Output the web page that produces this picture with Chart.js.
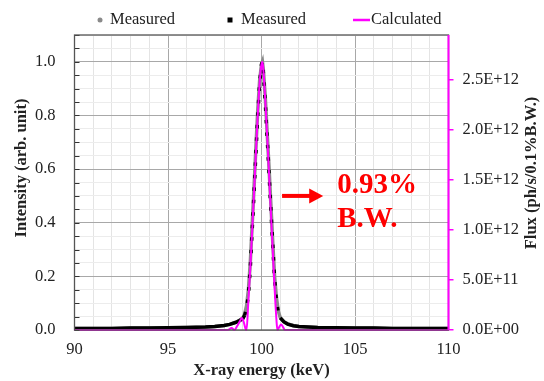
<!DOCTYPE html>
<html>
<head>
<meta charset="utf-8">
<script src="https://cdn.jsdelivr.net/npm/chart.js@4"></script>
<style>
  body { margin: 0; background: #fff; }
  #grafica { display: block; }
</style>
</head>
<body>
<canvas id="grafica" width="544" height="381"></canvas>
<script>
// datos medidos (energia en keV, intensidad normalizada)
const ENERGIA = [90, 91, 92, 93, 94, 95, 96, 97, 97.5, 98, 98.3, 98.6, 98.8, 99, 99.1, 99.2, 99.3, 99.4, 99.5, 99.6,
  99.7, 99.8, 99.9, 100, 100.05, 100.1, 100.2, 100.3, 100.4, 100.5, 100.6, 100.7, 100.8, 100.9, 101, 101.2,
  101.4, 101.7, 102, 102.5, 103, 104, 105, 106, 107, 108, 109, 110];
const MEDIDO_GRIS = [0.006, 0.006, 0.006, 0.007, 0.007, 0.008, 0.009, 0.011, 0.013, 0.017, 0.021, 0.028, 0.035, 0.045,
  0.06, 0.09, 0.15, 0.25, 0.39, 0.53, 0.68, 0.82, 0.93, 0.99, 1.0, 0.97, 0.87, 0.74, 0.61, 0.47, 0.33, 0.2, 0.12,
  0.07, 0.047, 0.031, 0.023, 0.017, 0.013, 0.011, 0.009, 0.008, 0.007, 0.007, 0.006, 0.006, 0.006, 0.006];
const MEDIDO_NEGRO = [0.006, 0.006, 0.006, 0.007, 0.007, 0.008, 0.009, 0.011, 0.013, 0.017, 0.021, 0.028, 0.034, 0.042,
  0.055, 0.08, 0.13, 0.23, 0.37, 0.51, 0.66, 0.8, 0.92, 0.99, 1.0, 0.96, 0.85, 0.72, 0.59, 0.45, 0.32, 0.19, 0.11,
  0.065, 0.045, 0.03, 0.022, 0.016, 0.013, 0.011, 0.009, 0.008, 0.007, 0.007, 0.006, 0.006, 0.006, 0.006];

// flujo calculado (ph/s/0.1%B.W.)
const ENERGIA_CALC = [90, 97, 98.2, 98.4, 98.55, 98.7, 98.85, 98.95, 99.05, 99.15, 99.2, 99.3, 99.4, 99.5, 99.6, 99.7,
  99.8, 99.9, 100, 100.05, 100.1, 100.2, 100.3, 100.4, 100.5, 100.6, 100.7, 100.8, 100.85, 100.95, 101.05, 101.15,
  101.25, 102, 110];
const FLUJO_CALC = [0, 0, 0, 0.02e12, 0, 0.04e12, 0.09e12, 0.12e12, 0.08e12, 0.01e12, 0, 0.3e12, 0.62e12, 0.99e12,
  1.37e12, 1.77e12, 2.15e12, 2.47e12, 2.66e12, 2.68e12, 2.6e12, 2.3e12, 1.95e12, 1.57e12, 1.18e12, 0.8e12, 0.42e12,
  0.1e12, 0, 0.03e12, 0.055e12, 0.03e12, 0, 0, 0];

// marcas del eje derecho
const TICKS_FLUJO = [0, 0.5e12, 1.0e12, 1.5e12, 2.0e12, 2.5e12];

const ETIQUETAS = ['Measured', 'Measured', 'Calculated'];
const TITULO_X = 'X-ray energy (keV)';
const TITULO_Y = 'Intensity (arb. unit)';
const TITULO_Y2 = 'Flux (ph/s/0.1%B.W.)';
const NOTA = ['0.93%', 'B.W.'];

const FUENTE = "'Liberation Serif', 'Times New Roman', serif";
const MAGENTA = '#ff00ff';

Chart.defaults.font.family = FUENTE;
Chart.defaults.font.size = 16.5;
Chart.defaults.color = '#222';

function puntos(xs, ys) {
  return xs.map((x, i) => ({ x: x, y: ys[i] }));
}

function esMultiplo(v, paso) {
  return Math.abs(v / paso - Math.round(v / paso)) < 1e-6;
}

function formatoE(v) {
  if (v === 0) return '0.0E+00';
  const exp = Math.floor(Math.log10(v) + 1e-9);
  const mant = v / Math.pow(10, exp);
  return mant.toFixed(1) + 'E+' + String(exp).padStart(2, '0');
}

// borde, flecha, texto rojo, leyenda y titulos
const decoracion = {
  id: 'decoracion',
  afterDatasetsDraw(chart) {
    const ctx = chart.ctx;
    const a = chart.chartArea;
    const x = chart.scales.x;
    const y = chart.scales.y;
    ctx.save();
    // marcas hacia dentro en el eje izquierdo
    ctx.strokeStyle = '#333';
    ctx.lineWidth = 1;
    y.ticks.forEach(t => {
      const py = Math.round(y.getPixelForValue(t.value)) + 0.5;
      ctx.beginPath();
      ctx.moveTo(a.left, py);
      ctx.lineTo(a.left + 5, py);
      ctx.stroke();
    });
    ctx.strokeStyle = '#555';
    ctx.lineWidth = 1.3;
    ctx.strokeRect(a.left, a.top, a.right - a.left, a.bottom - a.top);
    ctx.strokeStyle = MAGENTA;
    ctx.lineWidth = 2;
    ctx.beginPath();
    ctx.moveTo(a.right, a.top);
    ctx.lineTo(a.right, a.bottom);
    ctx.stroke();

    // flecha
    const fy = y.getPixelForValue(0.5);
    const x0 = x.getPixelForValue(101.1);
    const x1 = x.getPixelForValue(103.3);
    ctx.fillStyle = '#ff0000';
    ctx.fillRect(x0, fy - 2, x1 - 13 - x0, 4);
    ctx.beginPath();
    ctx.moveTo(x1 - 14, fy - 7.5);
    ctx.lineTo(x1, fy);
    ctx.lineTo(x1 - 14, fy + 7.5);
    ctx.closePath();
    ctx.fill();

    ctx.font = 'bold 29px ' + FUENTE;
    ctx.textAlign = 'left';
    ctx.textBaseline = 'alphabetic';
    const tx = x.getPixelForValue(104.05);
    ctx.fillText(NOTA[0], tx, y.getPixelForValue(0.51));
    ctx.fillText(NOTA[1], tx, y.getPixelForValue(0.385));
    ctx.restore();
  },
  afterDraw(chart) {
    const ctx = chart.ctx;
    const a = chart.chartArea;
    const ds = chart.data.datasets;
    ctx.save();
    ctx.font = '16.5px ' + FUENTE;
    ctx.fillStyle = '#222';
    ctx.textBaseline = 'middle';
    ctx.textAlign = 'left';
    const ly = 20;
    // leyenda manual
    ctx.fillStyle = ds[0].borderColor;
    ctx.beginPath();
    ctx.arc(100, ly, 2.5, 0, Math.PI * 2);
    ctx.fill();
    ctx.fillStyle = '#222';
    ctx.fillText(ds[0].label, 110, ly);
    ctx.fillStyle = ds[1].borderColor;
    ctx.fillRect(227.5, ly - 2.5, 5, 5);
    ctx.fillStyle = '#222';
    ctx.fillText(ds[1].label, 241, ly);
    ctx.strokeStyle = ds[2].borderColor;
    ctx.lineWidth = 2.5;
    ctx.beginPath();
    ctx.moveTo(353, ly);
    ctx.lineTo(370, ly);
    ctx.stroke();
    ctx.fillText(ds[2].label, 371, ly);

    // titulos de ejes
    ctx.font = 'bold 16.5px ' + FUENTE;
    ctx.textAlign = 'center';
    ctx.fillText(TITULO_X, (a.left + a.right) / 2, 371);
    ctx.translate(21.5, 168);
    ctx.rotate(-Math.PI / 2);
    ctx.fillText(TITULO_Y, 0, 0);
    ctx.setTransform(1, 0, 0, 1, 0, 0);
    ctx.translate(532, 173);
    ctx.rotate(-Math.PI / 2);
    ctx.fillText(TITULO_Y2, 0, 0);
    ctx.restore();
  }
};

const ctx = document.getElementById('grafica').getContext('2d');
const grafica = new Chart(ctx, {
  type: 'line',
  data: {
    datasets: [{
      label: ETIQUETAS[0],
      data: puntos(ENERGIA, MEDIDO_GRIS),
      borderColor: '#8a8a8a',
      borderWidth: 3.5,
      pointRadius: 0,
      yAxisID: 'y',
      order: 2,
      clip: 4
    }, {
      label: ETIQUETAS[1],
      data: puntos(ENERGIA, MEDIDO_NEGRO),
      borderColor: '#000',
      borderWidth: 3.5,
      pointRadius: 0,
      yAxisID: 'y',
      order: 1,
      clip: 4,
      segment: {
        borderDash: c => (c.p0.parsed.y > 0.06 || c.p1.parsed.y > 0.06) ? [3.5, 9] : undefined
      }
    }, {
      label: ETIQUETAS[2],
      data: puntos(ENERGIA_CALC, FLUJO_CALC),
      borderColor: MAGENTA,
      borderWidth: 2,
      pointRadius: 0,
      cubicInterpolationMode: 'monotone',
      yAxisID: 'y2',
      order: 0,
      clip: 4
    }]
  },
  options: {
    responsive: false,
    animation: false,
    layout: { padding: { top: 35, left: 0, right: 0, bottom: 0 } },
    plugins: {
      legend: { display: false },
      tooltip: { enabled: false }
    },
    scales: {
      x: {
        type: 'linear',
        min: 90,
        max: 110,
        border: { display: false },
        grid: {
          drawTicks: false,
          color: c => esMultiplo(c.tick.value, 5) ? '#a8a8a8' : '#e4e4e4',
          lineWidth: 1
        },
        ticks: {
          stepSize: 1,
          autoSkip: false,
          maxRotation: 0,
          padding: 10,
          callback: v => esMultiplo(v, 5) ? String(v) : ''
        },
        afterFit: s => { s.height = 51; }
      },
      y: {
        position: 'left',
        min: 0,
        max: 1.1,
        border: { display: false },
        grid: {
          drawTicks: false,
          color: c => esMultiplo(c.tick.value, 0.2) ? '#a8a8a8' : '#ececec',
          lineWidth: 1
        },
        ticks: {
          stepSize: 0.05,
          autoSkip: false,
          padding: 19,
          callback: v => esMultiplo(v, 0.2) ? v.toFixed(1) : ''
        },
        afterFit: s => { s.width = 74.5; }
      },
      y2: {
        position: 'right',
        min: 0,
        max: 2.95e12,
        border: { display: false },
        grid: {
          drawOnChartArea: false,
          drawTicks: true,
          tickLength: 5,
          lineWidth: 1.5,
          color: MAGENTA
        },
        ticks: {
          autoSkip: false,
          padding: 9,
          callback: v => formatoE(v)
        },
        afterBuildTicks: s => { s.ticks = TICKS_FLUJO.map(v => ({ value: v })); },
        afterFit: s => { s.width = 95.5; }
      }
    }
  },
  plugins: [decoracion]
});
</script>
</body>
</html>
